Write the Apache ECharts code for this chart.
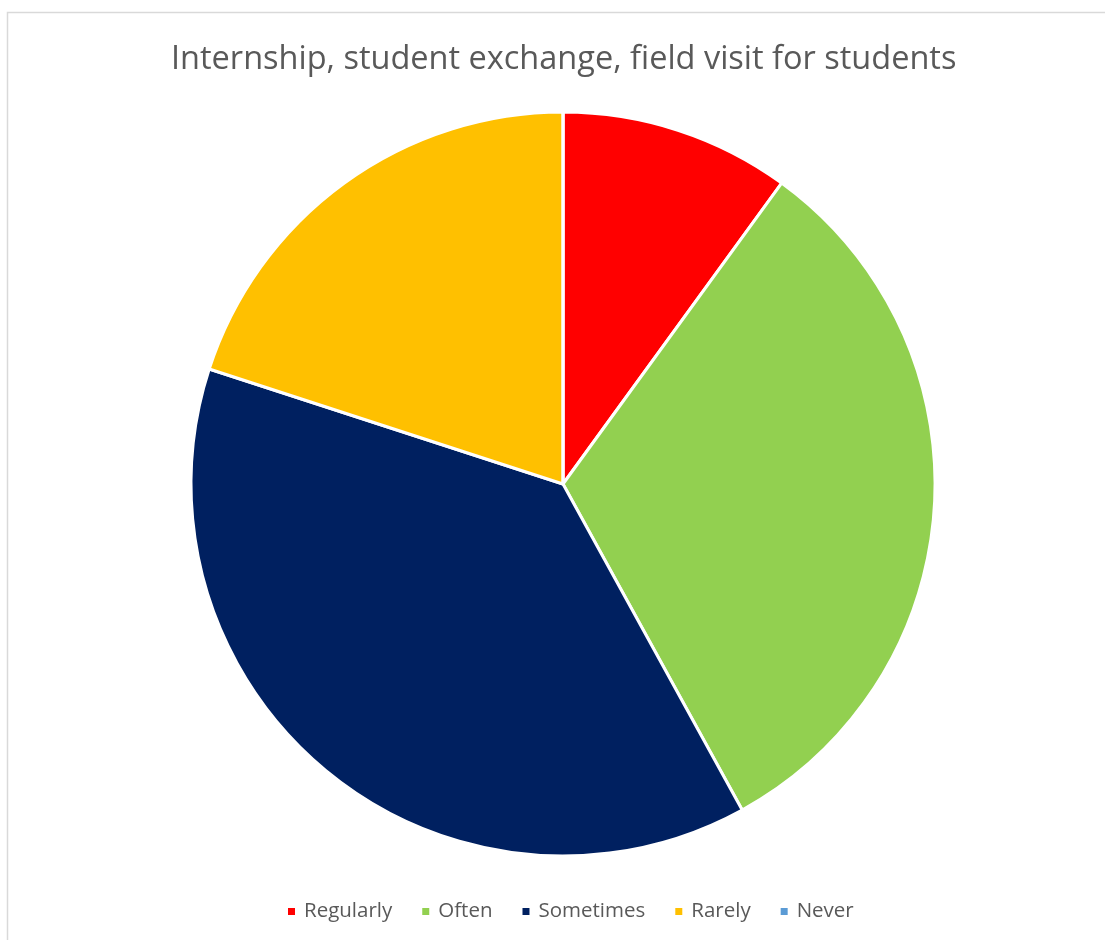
<!DOCTYPE html>
<html>
<head>
<meta charset="utf-8">
<script src="https://cdn.jsdelivr.net/npm/echarts@6/dist/echarts.min.js"></script>
<style>html,body{margin:0;padding:0;background:#fff;}#c{width:1105px;height:940px;}</style>
</head>
<body>
<div id="c"></div>
<script>
const titleText = 'Internship, student exchange, field visit for students';
const categories = ['Regularly', 'Often', 'Sometimes', 'Rarely', 'Never'];
const values = [5, 16, 19, 10, 0];
const colors = ['#FF0000', '#92D050', '#002060', '#FFC000', '#5B9BD5'];

const chart = echarts.init(document.getElementById('c'), null, {renderer: 'canvas'});
const data = categories.map((n, i) => ({name: n, value: values[i], itemStyle: {color: colors[i]}}));
chart.setOption({
  animation: false,
  backgroundColor: '#fff',
  graphic: [{
    type: 'rect', silent: true, z: -1,
    shape: {x: 7.5, y: 12.5, width: 1200, height: 1000},
    style: {fill: 'none', stroke: '#d9d9d9', lineWidth: 1.5}
  }],
  title: {
    text: titleText, left: 166, top: 38,
    textStyle: {fontFamily: 'Open Sans', fontWeight: 'normal', fontSize: 32.5, color: '#595959'}
  },
  legend: {
    data: categories, bottom: 13, left: 281,
    itemWidth: 9, itemHeight: 9, itemGap: 28, icon: 'rect',
    textStyle: {fontFamily: 'Open Sans', fontSize: 20.5, color: '#595959', padding: [0, 0, 0, 3]}
  },
  series: [{
    type: 'pie', center: [563, 484], radius: 372, startAngle: 90, clockwise: true,
    label: {show: false}, labelLine: {show: false},
    itemStyle: {borderColor: '#fff', borderWidth: 3},
    emphasis: {disabled: true},
    data: data
  }]
});
</script>
</body>
</html>
